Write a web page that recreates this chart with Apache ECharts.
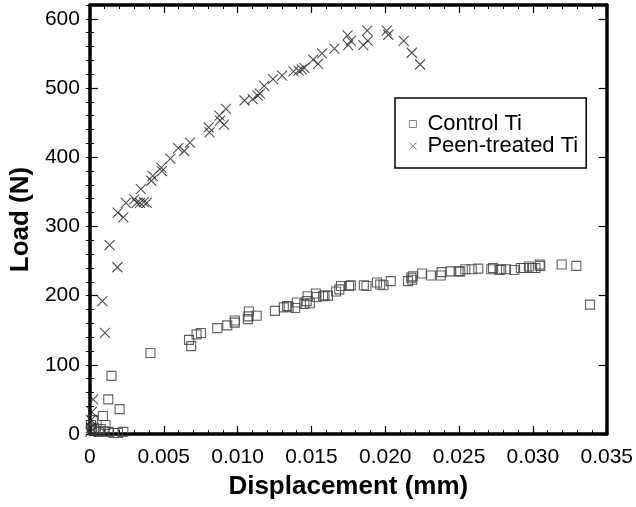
<!DOCTYPE html>
<html>
<head>
<meta charset="utf-8">
<script src="https://cdn.jsdelivr.net/npm/echarts@6/dist/echarts.min.js"></script>
<style>
  html, body { margin: 0; padding: 0; background: #fff; }
  #main { width: 636px; height: 507px; }
</style>
</head>
<body>
<div id="main"></div>
<script>
// displacement (mm) / load (N)
const controlX = [0.00007, 0.00013, 0.0002, 0.00027, 0.0004, 0.0006, 0.00073, 0.00088, 0.00093, 0.00106, 0.00124, 0.00126,
  0.00146, 0.0016, 0.0019, 0.00201, 0.00226, 0.0041,
  0.00671, 0.00686, 0.00722, 0.00752, 0.00863, 0.0093, 0.00981, 0.00981, 0.01069, 0.01076, 0.01074, 0.01129,
  0.01253, 0.01313, 0.01335, 0.01346, 0.0139, 0.01401, 0.01452, 0.01468, 0.0149, 0.01474, 0.0153, 0.01534,
  0.01579, 0.01589, 0.01612, 0.01667, 0.01689, 0.017, 0.01755, 0.01767, 0.01855, 0.01873, 0.01944, 0.01966,
  0.01988, 0.02037, 0.02154, 0.02176, 0.02187, 0.02183, 0.0225, 0.02309, 0.02376, 0.02382, 0.02442, 0.02497,
  0.02508, 0.02542, 0.02586, 0.0263, 0.02718, 0.0273, 0.02774, 0.02785, 0.02818, 0.02874, 0.02918, 0.0294,
  0.02973, 0.02995, 0.03017, 0.03046, 0.0305, 0.03195, 0.03294, 0.03387]
const controlY = [13, 6, 20, 9, 4, 3, 7, 26, 4, 13, 50, 3,
  84, 1.5, 1.5, 36, 3, 117,
  136, 127, 144, 146, 153, 157, 161, 164, 166, 177, 170, 171,
  178, 183, 185, 184, 182, 190, 188, 192, 189, 199, 203, 198,
  199, 200, 200, 206, 209, 214, 214, 215, 215, 214, 219, 216,
  215, 221, 221, 226, 228, 223, 232, 229, 229, 234, 235, 235,
  235, 238, 238, 239, 238, 240, 237, 238, 238, 237, 240, 240,
  242, 240, 240, 245, 243, 245, 243, 187]

const peenX = [0.00003, 0.00007, 0.00007, 0.00013, 0.00022, 0.00084, 0.00102, 0.00133, 0.00186, 0.00188, 0.00226,
  0.00244, 0.00301, 0.00317, 0.00339, 0.00365, 0.00385, 0.00345, 0.00416, 0.00425, 0.00483, 0.00487, 0.00545,
  0.00598, 0.00638, 0.00677, 0.00804, 0.0081, 0.00877, 0.00881, 0.00921, 0.00908, 0.01047, 0.01102, 0.01136,
  0.01151, 0.0118, 0.0124, 0.01302, 0.01379, 0.01413, 0.01435, 0.01452, 0.01512, 0.01545, 0.01572, 0.01656,
  0.01745, 0.01749, 0.01767, 0.01851, 0.01878, 0.01882, 0.0201, 0.02021, 0.02125, 0.0218, 0.02236]
const peenY = [3, 9, 20, 32, 50, 192, 146, 273, 241, 320, 313,
  334, 339, 334, 334, 335, 334, 354, 366, 373, 385, 380, 398,
  413, 409, 421, 443, 436, 460, 453, 470, 447, 482, 484, 489,
  492, 503, 513, 518, 524, 525, 527, 529, 541, 535, 550, 557,
  576, 562, 568, 562, 583, 568, 583, 577, 568, 551, 534]

const seriesNames = ['Control Ti', 'Peen-treated Ti']
const xTicks = [0, 0.005, 0.01, 0.015, 0.02, 0.025, 0.03, 0.035]
const yTicks = [0, 100, 200, 300, 400, 500, 600]

const controlData = controlX.map((x, i) => [x, controlY[i]])
const peenData = peenX.map((x, i) => [x, peenY[i]])

const font = "'Liberation Sans', Arial, sans-serif"
const crossPath = 'path://M0,0L10,10M10,0L0,10'

const myChart = echarts.init(document.getElementById('main'))

// main axes with labels plus mirrored axes for the frame ticks
const xMajor = (pos, labels) => ({
  type: 'value',
  position: pos,
  min: xTicks[0],
  max: xTicks[xTicks.length - 1],
  interval: 0.005,
  splitLine: { show: false },
  axisLine: { show: true, onZero: false, lineStyle: { color: '#000', width: 3.5 } },
  axisTick: { show: true, inside: true, length: 8, lineStyle: { color: '#000', width: 1.2 } },
  minorTick: { show: true, splitNumber: 5, length: 4, lineStyle: { color: '#000', width: 1 } },
  axisLabel: {
    show: labels,
    color: '#000',
    fontFamily: font,
    fontSize: 21,
    margin: 13,
    formatter: (v) => (v === 0 ? '0' : v.toFixed(3))
  }
})

const yMajor = (pos, labels) => ({
  type: 'value',
  position: pos,
  min: 0,
  max: 620,
  interval: 100,
  splitLine: { show: false },
  axisLine: { show: true, onZero: false, lineStyle: { color: '#000', width: 3.5 } },
  axisTick: { show: true, inside: true, length: 8, lineStyle: { color: '#000', width: 1.2 } },
  axisLabel: {
    show: labels,
    color: '#000',
    fontFamily: font,
    fontSize: 21,
    margin: 10,
    showMaxLabel: false,
    formatter: (v) => (yTicks.indexOf(v) >= 0 ? String(v) : '')
  }
})

const yMinor = (pos) => ({
  type: 'value',
  position: pos,
  min: 0,
  max: 620,
  interval: 20,
  splitLine: { show: false },
  axisLine: { show: false },
  axisTick: { show: true, inside: true, length: 4, lineStyle: { color: '#000', width: 1 } },
  axisLabel: { show: false }
})

const xBottom = xMajor('bottom', true)
xBottom.name = 'Displacement (mm)'
xBottom.nameLocation = 'middle'
xBottom.nameGap = 40
xBottom.nameTextStyle = { color: '#000', fontFamily: font, fontSize: 26, fontWeight: 'bold' }

const yLeft = yMajor('left', true)
yLeft.name = 'Load (N)'
yLeft.nameLocation = 'middle'
yLeft.nameGap = 53
yLeft.nameTextStyle = { color: '#000', fontFamily: font, fontSize: 26, fontWeight: 'bold' }

myChart.setOption({
  animation: false,
  backgroundColor: '#fff',
  grid: { left: 84, right: 25, top: 5, bottom: 73 },
  legend: {
    orient: 'vertical',
    left: 395,
    top: 98,
    padding: [15, 8, 11, 14],
    itemGap: 0,
    itemWidth: 7,
    itemHeight: 7,
    borderColor: '#000',
    borderWidth: 1.5,
    itemStyle: { borderWidth: 0.8 },
    textStyle: { color: '#000', fontFamily: font, fontSize: 22, lineHeight: 18, padding: [0, 0, 0, 6] },
    data: seriesNames
  },
  xAxis: [xBottom, xMajor('top', false)],
  yAxis: [yLeft, yMajor('right', false), yMinor('left'), yMinor('right')],
  series: [
    {
      name: seriesNames[0],
      type: 'scatter',
      symbol: 'rect',
      symbolSize: 9,
      itemStyle: { color: 'rgba(0,0,0,0)', borderColor: '#444', borderWidth: 1.1, opacity: 0.85 },
      data: controlData
    },
    {
      name: seriesNames[1],
      type: 'scatter',
      symbol: crossPath,
      symbolSize: 10,
      itemStyle: { color: 'rgba(0,0,0,0)', borderColor: '#222', borderWidth: 1.1 },
      data: peenData
    }
  ]
})
</script>
</body>
</html>
